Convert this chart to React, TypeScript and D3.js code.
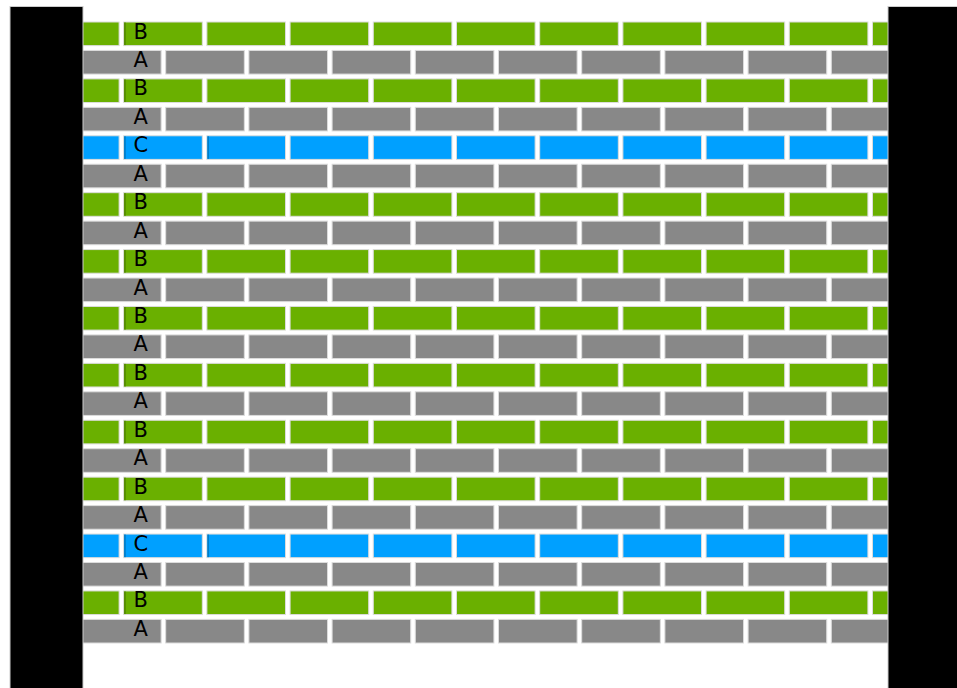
import React from "react";
import * as d3 from "d3";

// rows, top to bottom
const rowLabels = [
  "B", "A", "B", "A", "C", "A", "B", "A", "B", "A", "B",
  "A", "B", "A", "B", "A", "B", "A", "C", "A", "B", "A",
];

const rowColors: Record<string, string> = {
  A: "#888888",
  B: "#6ab000",
  C: "#00a0ff",
};

// brick start offset (in brick units) per row type
const rowOffsets: Record<string, number> = { A: 0, B: -0.505, C: -0.505 };

// bricks with a dark seam on the left, by index
const seamBricks: Record<string, number[]> = { A: [], B: [1], C: [1, 2] };

const brickCount = 11;
const brickWidth = 0.945;
const labelPos = 0.7;

const width = 957;
const height = 688;

export default function App() {
  const x = d3.scaleLinear().domain([0, 10]).range([82.5, 914.5]);
  const y = d3
    .scaleBand<number>()
    .domain(d3.range(rowLabels.length))
    .range([22, 643])
    .paddingInner(0.17);

  const bw = y.bandwidth();

  return (
    <svg
      width={width}
      height={height}
      style={{ position: "absolute", left: 0, top: 0, background: "#fff" }}
    >
      <g>
        {rowLabels.map((lab, i) => {
          const top = y(i)!;
          const off = rowOffsets[lab];
          return (
            <g key={i}>
              {d3.range(brickCount).map((k) => {
                const x0 = x(off + k);
                const x1 = x(off + k + brickWidth);
                return (
                  <g key={k}>
                    <rect
                      x={x0}
                      y={top}
                      width={x1 - x0}
                      height={bw}
                      fill={rowColors[lab]}
                      stroke="#dcdcdc"
                      strokeWidth={1}
                    />
                    {seamBricks[lab].includes(k) && (
                      <rect
                        x={x0 + 0.5}
                        y={top + 0.5}
                        width={1.5}
                        height={bw - 1}
                        fill={d3.color(rowColors[lab])!.darker(0.8).toString()}
                      />
                    )}
                  </g>
                );
              })}
              <text
                x={x(labelPos)}
                y={top + bw * 0.7}
                textAnchor="middle"
                fontFamily="DejaVu Sans"
                fontSize={21}
                fill="#000"
              >
                {lab}
              </text>
            </g>
          );
        })}
      </g>
      {/* side blocks */}
      <rect x={10} y={6.5} width={73} height={700} fill="#000" stroke="#ccc" strokeWidth={1} />
      <rect x={888} y={6.5} width={90} height={700} fill="#000" stroke="#ccc" strokeWidth={1} />
    </svg>
  );
}
